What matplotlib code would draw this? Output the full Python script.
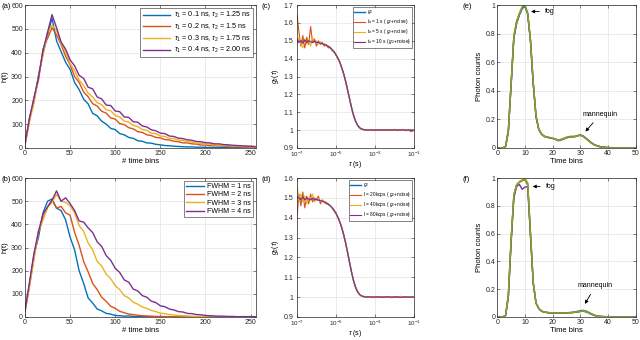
import numpy as np
import matplotlib
matplotlib.use("Agg")
import matplotlib.pyplot as plt
from matplotlib.ticker import FuncFormatter

plt.rcParams["font.family"] = ["Liberation Sans", "DejaVu Sans"]
plt.rcParams["mathtext.fontset"] = "custom"
plt.rcParams["mathtext.rm"] = "Liberation Sans"
plt.rcParams["mathtext.it"] = "Liberation Sans:italic"

BLUE, ORANGE, YELLOW, PURPLE, GREEN = "#0072BD", "#D95319", "#EDB120", "#7E2F8E", "#77AC30"

# ---------------- data ----------------
bins = np.arange(0, 256, 5)

a_labels = [r"$\tau_1$ = 0.1 ns, $\tau_2$ = 1.25 ns",
            r"$\tau_1$ = 0.2 ns, $\tau_2$ = 1.5 ns",
            r"$\tau_1$ = 0.3 ns, $\tau_2$ = 1.75 ns",
            r"$\tau_1$ = 0.4 ns, $\tau_2$ = 2.00 ns"]
a_blue = [15, 125, 195, 305, 395, 475, 545, 450, 405, 360, 330, 275, 245, 205, 185, 145, 135, 112, 100, 82,
          77, 60, 55, 44, 40, 30, 28, 21, 20, 15, 13, 10, 9, 7, 6, 5, 4, 4, 3, 3,
          2, 2, 2, 1, 2, 1, 1, 1, 2, 1, 1, 1]
a_orange = [12, 115, 210, 285, 415, 460, 505, 475, 435, 385, 350, 300, 275, 235, 215, 186, 176, 154, 146, 126,
            121, 102, 98, 85, 80, 68, 65, 55, 52, 44, 42, 35, 33, 28, 26, 21, 21, 17, 16, 12,
            12, 10, 9, 8, 7, 6, 5, 5, 4, 4, 3, 3]
a_yellow = [10, 110, 190, 300, 390, 485, 515, 495, 440, 405, 355, 325, 285, 262, 230, 214, 190, 182, 160, 156,
            136, 130, 112, 109, 94, 90, 77, 74, 62, 60, 50, 48, 40, 39, 33, 31, 26, 25, 20, 20,
            16, 16, 12, 12, 9, 10, 7, 8, 6, 6, 5, 5]
a_purple = [18, 125, 210, 295, 410, 485, 560, 505, 445, 415, 370, 345, 305, 292, 255, 248, 214, 206, 180, 178,
            155, 152, 130, 128, 110, 108, 92, 88, 76, 72, 62, 60, 50, 48, 41, 39, 34, 32, 27, 26,
            22, 21, 17, 17, 14, 13, 11, 10, 9, 8, 7, 6]

b_labels = ["FWHM = 1 ns", "FWHM = 2 ns", "FWHM = 3 ns", "FWHM = 4 ns"]
b_blue = [25, 140, 270, 345, 450, 500, 510, 470, 460, 420, 345, 290, 200, 145, 82, 60, 34, 26, 15, 12,
          6, 5, 3, 4, 2, 1, 1, 1, 0, 1, 0, 0, 0, 0, 0, 0, 0, 0, 0, 0,
          0, 0, 0, 0, 0, 0, 0, 0, 0, 0, 0, 0]
b_orange = [22, 135, 255, 365, 425, 475, 505, 470, 478, 450, 440, 365, 310, 240, 195, 145, 118, 85, 67, 46,
            37, 24, 18, 12, 10, 7, 5, 4, 3, 2, 2, 1, 1, 0, 1, 0, 0, 0, 0, 0,
            0, 0, 0, 0, 0, 0, 0, 0, 0, 0, 0, 0]
b_yellow = [20, 130, 250, 370, 420, 475, 495, 530, 500, 495, 480, 450, 395, 370, 320, 290, 240, 220, 185, 165,
            135, 118, 92, 82, 63, 55, 43, 37, 28, 23, 16, 14, 10, 8, 6, 5, 4, 3, 2, 2,
            1, 0, 0, 0, 0, 0, 0, 0, 0, 0, 0, 0]
b_purple = [25, 150, 275, 370, 445, 475, 505, 545, 500, 515, 490, 460, 415, 410, 385, 365, 325, 305, 265, 245,
            210, 192, 160, 150, 120, 112, 92, 85, 68, 62, 48, 44, 34, 30, 23, 21, 15, 14, 10, 9,
            6, 5, 4, 3, 3, 2, 2, 1, 1, 1, 1, 1]

tau = 10.0 ** np.linspace(-7, -1, 61)
g2 = [1.500, 1.500, 1.499, 1.499, 1.498, 1.498, 1.497, 1.496, 1.495, 1.494,
      1.492, 1.490, 1.487, 1.484, 1.480, 1.475, 1.469, 1.461, 1.451, 1.438,
      1.422, 1.402, 1.378, 1.348, 1.312, 1.270, 1.222, 1.172, 1.124, 1.082,
      1.050, 1.028, 1.014, 1.006, 1.003, 1.001,
      1.0, 1.0, 1.0, 1.0, 1.0, 1.0, 1.0, 1.0, 1.0, 1.0, 1.0, 1.0, 1.0,
      1.0, 1.0, 1.0, 1.0, 1.0, 1.0, 1.0, 1.0, 1.0, 1.0, 1.0, 1.0]

c_labels = [r"$g_2$", r"$t_a$ = 1 s ( $g_2$+noise)", r"$t_a$ = 5 s ( $g_2$+noise)",
            r"$t_a$ = 10 s ( $g_2$+noise)"]
c_orange = [1.65, 1.55, 1.47, 1.53, 1.46, 1.52, 1.48, 1.58, 1.49, 1.51,
            1.47, 1.50, 1.48, 1.49, 1.47, 1.48, 1.46, 1.465, 1.445, 1.44,
            1.42, 1.40, 1.38, 1.345, 1.315, 1.27, 1.222, 1.172, 1.124, 1.082,
            1.05, 1.028, 1.014, 1.006, 1.003, 1.001,
            1.002, 0.999, 1.001, 1.000, 0.998, 1.002, 1.000, 0.999, 1.003, 1.000,
            0.998, 1.001, 1.002, 0.999, 1.004, 0.998, 1.001, 0.997, 1.003, 1.000,
            0.996, 1.002, 0.993, 0.991, 1.002]
c_yellow = [1.47, 1.52, 1.49, 1.46, 1.51, 1.48, 1.50, 1.47, 1.52, 1.49,
            1.50, 1.48, 1.495, 1.48, 1.485, 1.47, 1.472, 1.458, 1.452, 1.436,
            1.423, 1.402, 1.377, 1.349, 1.311, 1.27, 1.222, 1.172, 1.124, 1.082,
            1.05, 1.028, 1.014, 1.006, 1.003, 1.001,
            1.000, 1.001, 0.999, 1.000, 1.002, 0.999, 1.000, 1.001, 0.998, 1.000,
            1.002, 0.999, 1.000, 1.001, 0.998, 1.002, 0.999, 1.001, 0.998, 1.000,
            1.002, 0.998, 0.997, 0.996, 1.001]
c_purple = [1.51, 1.49, 1.50, 1.485, 1.505, 1.49, 1.50, 1.495, 1.49, 1.50,
            1.49, 1.492, 1.485, 1.486, 1.478, 1.476, 1.468, 1.461, 1.450, 1.438,
            1.421, 1.402, 1.378, 1.348, 1.312, 1.27, 1.222, 1.172, 1.124, 1.082,
            1.05, 1.028, 1.014, 1.006, 1.003, 1.001,
            1.000, 1.000, 1.001, 0.999, 1.000, 1.000, 1.001, 0.999, 1.000, 1.000,
            1.001, 1.000, 0.999, 1.000, 1.001, 1.000, 0.999, 1.000, 1.001, 1.000,
            0.999, 1.000, 0.999, 0.998, 1.000]

d_labels = [r"$g_2$", r"I = 20kcps ( $g_2$+noise)", r"I = 40kcps ( $g_2$+noise)",
            r"I = 80kcps ( $g_2$+noise)"]
d_orange = [1.40, 1.52, 1.46, 1.53, 1.45, 1.51, 1.47, 1.52, 1.48, 1.50,
            1.49, 1.51, 1.47, 1.49, 1.48, 1.47, 1.47, 1.46, 1.452, 1.436,
            1.424, 1.40, 1.378, 1.35, 1.31, 1.27, 1.222, 1.172, 1.124, 1.082,
            1.05, 1.028, 1.014, 1.006, 1.003, 1.001,
            1.000, 1.002, 0.999, 1.001, 0.998, 1.002, 1.000, 0.999, 1.003, 0.998,
            1.001, 1.000, 0.997, 1.002, 1.001, 0.998, 1.003, 1.000, 0.999, 1.002,
            0.998, 1.001, 0.997, 1.002, 0.999]
d_yellow = [1.57, 1.49, 1.52, 1.48, 1.51, 1.47, 1.50, 1.49, 1.52, 1.48,
            1.50, 1.49, 1.485, 1.49, 1.475, 1.48, 1.468, 1.462, 1.45, 1.44,
            1.421, 1.403, 1.377, 1.349, 1.311, 1.27, 1.222, 1.172, 1.124, 1.082,
            1.05, 1.028, 1.014, 1.006, 1.003, 1.001,
            1.001, 0.999, 1.000, 1.001, 0.999, 1.000, 1.002, 0.999, 1.000, 1.001,
            0.999, 1.000, 1.001, 1.000, 0.999, 1.001, 1.000, 1.004, 1.002, 0.999,
            1.000, 1.001, 0.999, 1.000, 1.000]
d_purple = [1.51, 1.50, 1.49, 1.505, 1.49, 1.50, 1.495, 1.49, 1.50, 1.49,
            1.495, 1.488, 1.487, 1.484, 1.48, 1.475, 1.469, 1.461, 1.451, 1.438,
            1.422, 1.402, 1.378, 1.348, 1.312, 1.27, 1.222, 1.172, 1.124, 1.082,
            1.05, 1.028, 1.014, 1.006, 1.003, 1.001,
            1.000, 1.001, 1.000, 0.999, 1.000, 1.001, 1.000, 1.000, 0.999, 1.000,
            1.001, 1.000, 1.000, 0.999, 1.000, 1.001, 1.000, 0.999, 1.000, 1.000,
            1.001, 0.999, 1.000, 1.000, 0.999]

tbins = np.arange(0, 51)
e_blue = [0, 0, 0, 0.01, 0.11, 0.44, 0.77, 0.87, 0.93, 0.975, 0.99, 0.935, 0.75, 0.45, 0.22, 0.13, 0.095,
          0.08, 0.074, 0.07, 0.066, 0.06, 0.05, 0.054, 0.062, 0.07, 0.074, 0.076, 0.079, 0.085, 0.088,
          0.081, 0.067, 0.051, 0.035, 0.023, 0.015, 0.009, 0.005, 0.004, 0.003, 0.002, 0.002, 0.001,
          0, 0, 0, 0, 0, 0, 0]
e_orange = [0, 0, 0, 0.012, 0.13, 0.46, 0.78, 0.885, 0.94, 0.985, 1.0, 0.94, 0.755, 0.455, 0.225, 0.132,
            0.097, 0.082, 0.076, 0.072, 0.068, 0.062, 0.054, 0.058, 0.066, 0.074, 0.079, 0.08, 0.078,
            0.084, 0.09, 0.082, 0.066, 0.05, 0.034, 0.022, 0.014, 0.009, 0.005, 0.003, 0.002, 0.001,
            0, 0, 0, 0, 0, 0, 0, 0, 0]
e_yellow = [0, 0, 0, 0.01, 0.12, 0.45, 0.79, 0.89, 0.945, 0.99, 1.0, 0.945, 0.76, 0.46, 0.23, 0.135, 0.1,
            0.083, 0.077, 0.073, 0.069, 0.063, 0.056, 0.06, 0.068, 0.075, 0.08, 0.082, 0.08, 0.086, 0.09,
            0.083, 0.068, 0.052, 0.036, 0.023, 0.015, 0.009, 0.006, 0.004, 0.002, 0.001,
            0, 0, 0, 0, 0, 0, 0, 0, 0]
e_purple = [0, 0, 0, 0.01, 0.115, 0.44, 0.775, 0.88, 0.935, 0.98, 0.995, 0.94, 0.75, 0.45, 0.22, 0.13,
            0.096, 0.081, 0.075, 0.071, 0.067, 0.061, 0.053, 0.057, 0.064, 0.072, 0.077, 0.079, 0.08,
            0.086, 0.091, 0.084, 0.069, 0.053, 0.037, 0.024, 0.016, 0.01, 0.006, 0.004, 0.002, 0.001,
            0, 0, 0, 0, 0, 0, 0, 0, 0]
e_green = [0, 0, 0, 0.008, 0.11, 0.45, 0.78, 0.88, 0.94, 0.985, 1.0, 0.94, 0.76, 0.46, 0.225, 0.13, 0.095,
           0.08, 0.075, 0.071, 0.067, 0.061, 0.053, 0.056, 0.064, 0.072, 0.076, 0.077, 0.079, 0.085, 0.088,
           0.081, 0.066, 0.05, 0.034, 0.022, 0.014, 0.008, 0.004, 0.002, 0.001,
           0, 0, 0, 0, 0, 0, 0, 0, 0, 0]

f_blue = [0, 0, 0, 0.01, 0.16, 0.56, 0.87, 0.95, 0.975, 0.985, 0.99, 0.95, 0.6, 0.25, 0.1, 0.062, 0.042,
          0.035, 0.032, 0.03, 0.029, 0.029, 0.028, 0.028, 0.029, 0.03, 0.031, 0.032, 0.035, 0.04, 0.045,
          0.047, 0.043, 0.034, 0.023, 0.014, 0.007, 0.004, 0.003, 0.002, 0.002, 0.001, 0.001,
          0, 0, 0, 0, 0, 0, 0, 0]
f_orange = [0, 0, 0, 0.01, 0.15, 0.55, 0.88, 0.955, 0.97, 0.98, 0.99, 0.96, 0.61, 0.25, 0.1, 0.06, 0.041,
            0.034, 0.031, 0.03, 0.029, 0.028, 0.028, 0.027, 0.028, 0.029, 0.03, 0.031, 0.033, 0.036, 0.04,
            0.042, 0.038, 0.03, 0.02, 0.012, 0.006, 0.003, 0.002, 0.001, 0.001,
            0, 0, 0, 0, 0, 0, 0, 0, 0, 0]
f_yellow = [0, 0, 0, 0.01, 0.15, 0.55, 0.88, 0.95, 0.97, 0.99, 1.0, 0.97, 0.6, 0.25, 0.1, 0.06, 0.042,
            0.035, 0.032, 0.03, 0.029, 0.029, 0.028, 0.028, 0.029, 0.029, 0.03, 0.031, 0.033, 0.036, 0.04,
            0.042, 0.038, 0.03, 0.02, 0.012, 0.006, 0.003, 0.002, 0.001, 0.001,
            0, 0, 0, 0, 0, 0, 0, 0, 0, 0]
f_purple = [0, 0, 0, 0.01, 0.14, 0.53, 0.86, 0.94, 0.955, 0.92, 0.935, 0.94, 0.58, 0.24, 0.1, 0.06, 0.041,
            0.034, 0.031, 0.029, 0.028, 0.028, 0.027, 0.027, 0.028, 0.029, 0.03, 0.031, 0.033, 0.035, 0.039,
            0.041, 0.037, 0.029, 0.019, 0.011, 0.006, 0.003, 0.002, 0.001, 0.001,
            0, 0, 0, 0, 0, 0, 0, 0, 0, 0]
f_green = [0, 0, 0, 0.01, 0.15, 0.55, 0.88, 0.95, 0.97, 0.985, 0.995, 0.96, 0.6, 0.25, 0.1, 0.06, 0.042,
           0.035, 0.032, 0.03, 0.029, 0.028, 0.028, 0.028, 0.028, 0.029, 0.03, 0.031, 0.033, 0.036, 0.04,
           0.042, 0.038, 0.03, 0.02, 0.012, 0.006, 0.003, 0.002, 0.001,
           0, 0, 0, 0, 0, 0, 0, 0, 0, 0, 0]


def style(ax):
    ax.tick_params(which="both", direction="in", top=True, right=True, labelsize=5,
                   colors="#262626", pad=1.5, width=0.4)
    ax.tick_params(which="major", length=2)
    ax.tick_params(which="minor", length=1)
    for s in ax.spines.values():
        s.set_linewidth(0.5)
        s.set_color("#262626")
    ax.grid(True, which="major", color="#dcdcdc", linewidth=0.4)
    ax.set_axisbelow(True)


def legend(ax, fs, hl):
    leg = ax.legend(loc="upper right", fontsize=fs, frameon=True, fancybox=False,
                    edgecolor="#262626", handlelength=hl, borderpad=0.3, labelspacing=0.2,
                    handletextpad=0.5, borderaxespad=0.4)
    leg.get_frame().set_linewidth(0.5)


gfmt = FuncFormatter(lambda v, p: "%g" % round(v, 2))

fig = plt.figure(figsize=(6.4, 3.4), dpi=100)
ax_a = fig.add_axes([0.039, 0.565, 0.361, 0.42])
ax_b = fig.add_axes([0.039, 0.068, 0.361, 0.408])
ax_c = fig.add_axes([0.464, 0.565, 0.183, 0.42])
ax_d = fig.add_axes([0.464, 0.068, 0.183, 0.408])
ax_e = fig.add_axes([0.777, 0.565, 0.216, 0.42])
ax_f = fig.add_axes([0.777, 0.068, 0.216, 0.408])

# (a) and (b)
for ax, ser, labels in [(ax_a, [a_blue, a_orange, a_yellow, a_purple], a_labels),
                        (ax_b, [b_blue, b_orange, b_yellow, b_purple], b_labels)]:
    style(ax)
    for y, col, lab in zip(ser, [BLUE, ORANGE, YELLOW, PURPLE], labels):
        ax.plot(bins, y, color=col, lw=1.0, label=lab)
    ax.set_xlim(0, 256)
    ax.set_ylim(0, 600)
    ax.set_xticks(np.arange(0, 251, 50))
    ax.set_yticks(np.arange(0, 601, 100))
    ax.set_xlabel("# time bins", fontsize=5.5, labelpad=1)
    ax.set_ylabel("h(t)", fontsize=5.5, labelpad=2)
legend(ax_a, 5.2, 3.8)
legend(ax_b, 5, 2.6)

# (c) and (d)
for ax, ser, labels, ytop in [(ax_c, [c_orange, c_yellow, c_purple], c_labels, 1.7),
                              (ax_d, [d_orange, d_yellow, d_purple], d_labels, 1.6)]:
    style(ax)
    ax.set_xscale("log")
    ax.grid(True, which="minor", color="#ececec", linewidth=0.3)
    ax.plot(tau, g2, color=BLUE, lw=1.0, label=labels[0])
    for y, col, lab in zip(ser, [ORANGE, YELLOW, PURPLE], labels[1:]):
        ax.plot(tau, y, color=col, lw=0.8, label=lab)
    ax.set_xlim(1e-7, 1e-1)
    ax.set_ylim(0.9, ytop)
    ax.set_yticks(np.arange(0.9, ytop + 0.01, 0.1))
    ax.yaxis.set_major_formatter(gfmt)
    ax.tick_params(axis="x", labelsize=4.5, pad=1.5)
    ax.tick_params(axis="y", pad=2.5)
    ax.set_xlabel(r"$\tau$ (s)", fontsize=5, labelpad=0)
    ax.set_ylabel(r"$g_2(\tau)$", fontsize=5, labelpad=2)
    leg = ax.legend(loc="upper right", fontsize=3.4, frameon=True, fancybox=False,
                    edgecolor="#262626", handlelength=2.2, borderpad=0.3, labelspacing=0.2,
                    handletextpad=0.4, borderaxespad=0.4)
    leg.get_frame().set_linewidth(0.5)

# (e) and (f)
for ax, ser in [(ax_e, [e_blue, e_orange, e_yellow, e_purple, e_green]),
                (ax_f, [f_blue, f_orange, f_yellow, f_purple, f_green])]:
    style(ax)
    for y, col in zip(ser, [BLUE, ORANGE, YELLOW, PURPLE, GREEN]):
        ax.plot(tbins, y, color=col, lw=1.0)
    ax.set_xlim(0, 50)
    ax.set_ylim(0, 1)
    ax.set_xticks(np.arange(0, 51, 10))
    ax.set_yticks(np.arange(0, 1.01, 0.2))
    ax.yaxis.set_major_formatter(gfmt)
    ax.set_xlabel("Time bins", fontsize=5.5, labelpad=1)
    ax.set_ylabel("Photon counts", fontsize=5.5, labelpad=2)

arrow = dict(arrowstyle="-|>", color="black", lw=0.6, mutation_scale=5)
ax_e.annotate("fog", xy=(11.2, 0.955), xytext=(17.2, 0.955), fontsize=5, va="center",
              arrowprops=arrow)
ax_e.annotate("mannequin", xy=(31.2, 0.1), xytext=(31.0, 0.21), fontsize=5, va="bottom",
              arrowprops=arrow)
ax_f.annotate("fog", xy=(11.8, 0.94), xytext=(17.5, 0.94), fontsize=5, va="center",
              arrowprops=arrow)
ax_f.annotate("mannequin", xy=(31.2, 0.076), xytext=(29.2, 0.2), fontsize=5, va="bottom",
              arrowprops=arrow)

for lab, x, y in [("(a)", 0.003, 0.99), ("(b)", 0.003, 0.483), ("(c)", 0.409, 0.99),
                  ("(d)", 0.409, 0.483), ("(e)", 0.722, 0.99), ("(f)", 0.722, 0.483)]:
    fig.text(x, y, lab, fontsize=5.5, va="top", ha="left")

fig.savefig("out.png", dpi=100)
